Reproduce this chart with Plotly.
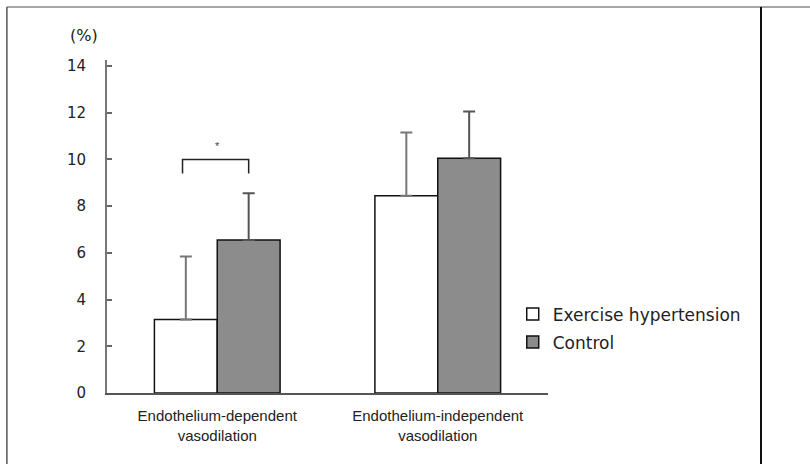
import plotly.graph_objects as go

categories = ["Endothelium-dependent<br>vasodilation", "Endothelium-independent<br>vasodilation"]
series_names = ["Exercise hypertension", "Control"]
exercise_vals = [3.15, 8.45]
exercise_err = [2.7, 2.7]
control_vals = [6.55, 10.05]
control_err = [2.0, 2.0]
y_ticks = [0, 2, 4, 6, 8, 10, 12, 14]
sig_label = "*"
sig_level = 10.0

BARGAP = 0.43
xi = list(range(len(categories)))
half = (1 - BARGAP) / 4  # offset of each bar center from category center

fig = go.Figure()
fig.add_trace(go.Bar(
    x=xi, y=exercise_vals, name=series_names[0],
    marker=dict(color="white", line=dict(color="#111", width=1.5)),
    error_y=dict(type="data", array=exercise_err, symmetric=False, arrayminus=[0, 0],
                 color="#777", thickness=2, width=6),
    legendgroup="a",
))
fig.add_trace(go.Bar(
    x=xi, y=control_vals, name=series_names[1],
    marker=dict(color="#8c8c8c", line=dict(color="#111", width=1.5)),
    error_y=dict(type="data", array=control_err, symmetric=False, arrayminus=[0, 0],
                 color="#555", thickness=2, width=6),
    legendgroup="b",
))

# significance bracket over first group
x0 = xi[0] - half - 0.015
x1 = xi[0] + half
leg = 0.6
fig.add_shape(type="path", xref="x", yref="y",
              path=f"M {x0},{sig_level-leg} L {x0},{sig_level} L {x1},{sig_level} L {x1},{sig_level-leg}",
              line=dict(color="#222", width=1.5))
fig.add_annotation(x=xi[0], y=sig_level + 0.25, xref="x", yref="y", text=sig_label,
                   showarrow=False, yanchor="bottom", font=dict(size=11, color="#444"))

# "(%)" unit label
fig.add_annotation(x=-0.052, y=1.075, xref="paper", yref="paper", text="(%)",
                   showarrow=False, xanchor="center", yanchor="middle",
                   font=dict(family="DejaVu Sans, sans-serif", size=16, color="#222"))

# outer frame lines
fig.add_shape(type="line", xref="paper", yref="paper", x0=-0.227, x1=1.6, y0=1.159, y1=1.159,
              line=dict(color="#888", width=1.5))
fig.add_shape(type="line", xref="paper", yref="paper", x0=-0.227, x1=-0.227, y0=1.159, y1=-0.3,
              line=dict(color="#555", width=1.5))
fig.add_shape(type="line", xref="paper", yref="paper", x0=1.483, x1=1.483, y0=1.159, y1=-0.3,
              line=dict(color="#111", width=2))

fig.update_layout(
    width=810, height=464,
    margin=dict(l=107, r=262, t=60, b=71),
    paper_bgcolor="white", plot_bgcolor="white",
    barmode="group", bargap=BARGAP, bargroupgap=0,
    font=dict(family="Liberation Sans, Arial, sans-serif", size=15, color="#222"),
    showlegend=True,
    legend=dict(x=0.92, y=0.29, xanchor="left", yanchor="top", bgcolor="rgba(0,0,0,0)",
                font=dict(family="DejaVu Sans, sans-serif", size=17, color="#222"),
                tracegroupgap=3, traceorder="grouped"),
    xaxis=dict(tickmode="array", tickvals=xi, ticktext=categories, range=[-0.5, 1.5],
               showline=True, linecolor="#555", linewidth=2, ticks="", showgrid=False,
               zeroline=False, tickfont=dict(size=15, color="#222"), ticklabelstandoff=8),
    yaxis=dict(range=[0, 14.26], tickvals=y_ticks, showline=True, linecolor="#777", linewidth=2,
               ticks="inside", ticklen=5, tickcolor="#666", tickwidth=1.5, showgrid=False,
               zeroline=False, tickfont=dict(family="DejaVu Sans, sans-serif", size=15, color="#222"),
               ticklabelstandoff=16),
)

fig.write_html("out.html")
